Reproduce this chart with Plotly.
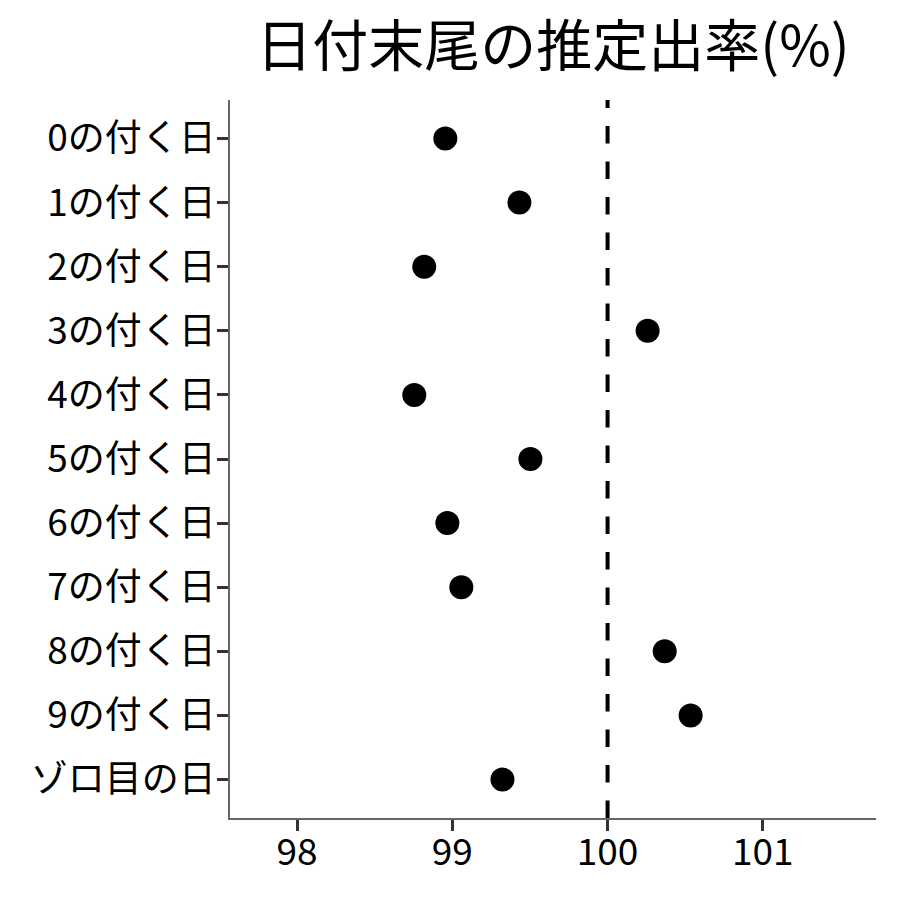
import plotly.graph_objects as go

categories = ["0の付く日", "1の付く日", "2の付く日", "3の付く日", "4の付く日",
              "5の付く日", "6の付く日", "7の付く日", "8の付く日", "9の付く日", "ゾロ目の日"]
rates = [98.955, 99.432, 98.819, 100.258, 98.755, 99.503, 98.968, 99.058, 100.368, 100.535, 99.323]
x_ticks = [98, 99, 100, 101]
ref_value = 100

FONT = "Noto Sans CJK JP"
W = H = 892

fig = go.Figure()
fig.add_trace(go.Scatter(
    x=rates, y=categories, mode="markers",
    marker=dict(color="black", size=24, line=dict(width=0)),
    showlegend=False, hoverinfo="x+y"))

fig.add_shape(type="line", xref="x", yref="paper", x0=ref_value, x1=ref_value, y0=0, y1=1,
              line=dict(color="black", width=4, dash="17.5px,18px"))

fig.update_layout(
    width=W, height=H,
    margin=dict(l=222, r=24, t=92, b=82, autoexpand=False),
    plot_bgcolor="white", paper_bgcolor="white",
    font=dict(family=FONT, color="black", size=37),
    title=dict(text="日付末尾の推定出率(%)", x=0.5, xref="paper", y=1 - 38 / H,
               yref="container", yanchor="middle", xanchor="center",
               font=dict(family=FONT, size=56, color="black")),
    xaxis=dict(range=[97.568, 101.729], tickvals=x_ticks, ticktext=[str(v) for v in x_ticks],
               automargin=False,
               showgrid=False, zeroline=False, showline=True, linecolor="#666666", linewidth=1.5,
               ticks="outside", ticklen=11, tickwidth=3, tickcolor="#333333",
               ticklabelstandoff=-10,
               tickfont=dict(family=FONT, size=37, color="black")),
    yaxis=dict(type="category", categoryorder="array", categoryarray=categories,
               automargin=False,
               range=[10.6, -0.6], showgrid=False, zeroline=False, showline=True,
               linecolor="#666666", linewidth=1.5,
               ticks="outside", ticklen=11, tickwidth=3, tickcolor="#333333",
               ticklabelstandoff=-6,
               tickfont=dict(family=FONT, size=37, color="black")),
)

fig.write_html("out.html")
